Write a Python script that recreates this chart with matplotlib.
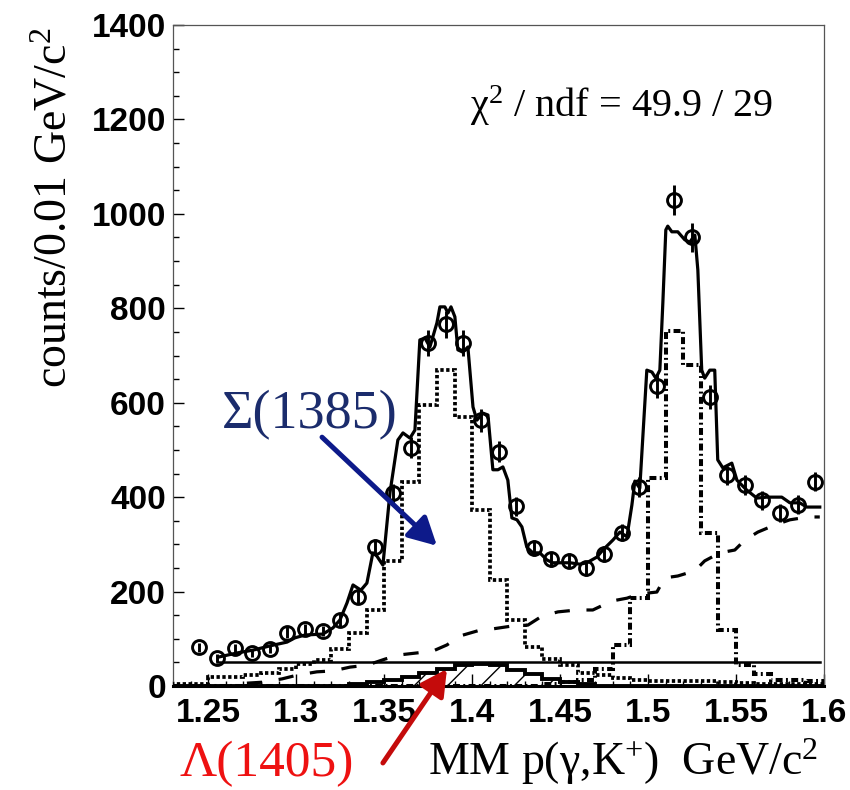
import numpy as np
import matplotlib
matplotlib.use("Agg")
import matplotlib.pyplot as plt
from matplotlib.ticker import MultipleLocator, FormatStrFormatter

plt.rcParams["lines.scale_dashes"] = False
plt.rcParams["mathtext.fontset"] = "custom"
plt.rcParams["mathtext.rm"] = "Liberation Serif"
plt.rcParams["mathtext.it"] = "Liberation Serif:italic"
plt.rcParams["hatch.linewidth"] = 1.0

# measured spectrum, 0.01 GeV bins
mm_centers = [1.245, 1.255, 1.265, 1.275, 1.285, 1.295, 1.305, 1.315, 1.325, 1.335,
              1.345, 1.355, 1.365, 1.375, 1.385, 1.395, 1.405, 1.415, 1.425, 1.435,
              1.445, 1.455, 1.465, 1.475, 1.485, 1.495, 1.505, 1.515, 1.525, 1.535,
              1.545, 1.555, 1.565, 1.575, 1.585, 1.595]
counts = [82, 59, 80, 69, 78, 113, 120, 116, 140, 189,
          294, 408, 505, 727, 766, 726, 563, 496, 381, 292,
          268, 265, 249, 280, 325, 422, 635, 1029, 950, 612,
          446, 426, 393, 366, 384, 433]
count_err = [9, 8, 9, 8, 9, 11, 11, 11, 12, 14,
             17, 20, 22, 27, 28, 27, 24, 22, 20, 17,
             16, 16, 16, 17, 18, 21, 25, 32, 31, 25,
             21, 21, 20, 19, 20, 21]

# total fit
fit_x = [1.2556, 1.2664, 1.2755, 1.2851, 1.2948, 1.2993, 1.3050, 1.3152, 1.3209, 1.3249,
         1.3289, 1.3323, 1.3368, 1.3402, 1.3436, 1.3459, 1.3493, 1.3533, 1.3578, 1.3607,
         1.3647, 1.3675, 1.3703, 1.3732, 1.3760, 1.3800, 1.3817, 1.3845, 1.3863, 1.3880,
         1.3902, 1.3919, 1.3948, 1.3976, 1.4005, 1.4027, 1.4061, 1.4090, 1.4118, 1.4147,
         1.4175, 1.4203, 1.4226, 1.4255, 1.4283, 1.4311, 1.4345, 1.4385, 1.4425, 1.4459,
         1.4499, 1.4556, 1.4613, 1.4652, 1.4709, 1.4743, 1.4800, 1.4840, 1.4880, 1.4908,
         1.4925, 1.4953, 1.4976, 1.4993, 1.5022, 1.5044, 1.5067, 1.5084, 1.5101, 1.5112,
         1.5135, 1.5169, 1.5209, 1.5237, 1.5266, 1.5283, 1.5305, 1.5322, 1.5351, 1.5379,
         1.5396, 1.5425, 1.5476, 1.5505, 1.5561, 1.5618, 1.5675, 1.5760, 1.5806, 1.5862,
         1.5902, 1.5976]
fit_y = [61, 70, 76, 85, 93, 102, 108, 110, 123, 140,
         176, 214, 203, 218, 282, 275, 256, 409, 521, 536,
         525, 542, 733, 737, 718, 769, 803, 803, 790, 803,
         782, 712, 707, 718, 591, 563, 578, 574, 458, 458,
         464, 436, 356, 352, 337, 294, 282, 282, 267, 261,
         261, 261, 258, 261, 273, 288, 309, 326, 316, 383,
         434, 419, 563, 669, 665, 652, 669, 811, 966, 974,
         962, 962, 945, 940, 955, 881, 669, 652, 669, 669,
         479, 462, 472, 436, 415, 398, 400, 400, 388, 388,
         379, 379]

# smooth background
bg_x = [1.2720, 1.2806, 1.2919, 1.3005, 1.3118, 1.3209, 1.3306, 1.3402, 1.3505, 1.3590,
        1.3686, 1.3777, 1.3857, 1.3931, 1.4033, 1.4118, 1.4226, 1.4317, 1.4397, 1.4488,
        1.4595, 1.4686, 1.4794, 1.4880, 1.4953, 1.5050, 1.5095, 1.5169, 1.5266, 1.5322,
        1.5408, 1.5493, 1.5550, 1.5624, 1.5720, 1.5806, 1.5908, 1.5976]
bg_y = [6, 8, 15, 23, 30, 32, 40, 44, 57, 66,
        70, 74, 87, 106, 117, 121, 127, 129, 148, 157,
        161, 161, 180, 186, 195, 199, 229, 233, 244, 265,
        282, 288, 309, 326, 341, 352, 358, 358]

# template histograms, bins of 0.01 from 1.23 to 1.60
bin_edges = np.round(np.arange(1.23, 1.6001, 0.01), 2)
sigma1385 = [4, 5, 20, 20, 23, 28, 37, 47, 55, 78,
             112, 161, 265, 433, 595, 669, 570, 373, 225, 140,
             83, 57, 44, 28, 23, 17, 13, 10, 10, 10,
             10, 8, 6, 5, 5, 4, 4]
lambda1520 = [0, 0, 0, 0, 0, 0, 0, 0, 0, 0,
              0, 0, 0, 0, 0, 0, 0, 0, 0, 0,
              0, 5, 8, 12, 35, 87, 186, 441, 752, 680,
              323, 119, 44, 25, 13, 13, 10]
lambda1405 = [0, 0, 0, 0, 0, 0, 0, 0, 0, 0,
              4, 8, 13, 19, 27, 37, 45, 47, 45, 34,
              25, 15, 8, 4, 0, 0, 0, 0, 0, 0,
              0, 0, 0, 0, 0, 0, 0]
flat_level = 50
flat_range = [1.255, 1.598]

chi2_text = r"χ$^{2}$ / ndf = 49.9 / 29"

fig = plt.figure(figsize=(8.5, 7.9), dpi=100)
ax = fig.add_axes([173 / 850, 104 / 790, 651 / 850, 661 / 790])

# Lambda(1405): hatched area with bold outline
l1405 = np.array(lambda1405, dtype=float)
ax.fill_between(bin_edges, np.append(l1405, l1405[-1]), step="post",
                facecolor="none", edgecolor="black", hatch="/", lw=0, zorder=2)
ax.stairs(l1405, bin_edges, color="black", lw=2.8, zorder=3)

ax.stairs(sigma1385, bin_edges, color="black", lw=2.7,
          linestyle=(0, (2.4, 1.8)), zorder=3)
ax.stairs(lambda1520, bin_edges, color="black", lw=2.9,
          linestyle=(0, (5, 2.4, 1.4, 2.4)), zorder=3)
ax.plot(bg_x, bg_y, color="black", lw=2.3, linestyle=(0, (11, 12)), zorder=3)
ax.plot(flat_range, [flat_level, flat_level], color="black", lw=1.8, zorder=3)
ax.plot(fit_x, fit_y, color="black", lw=2.3, zorder=4)

ax.errorbar(mm_centers, counts, yerr=count_err, fmt="o", ms=10, mfc="none",
            mec="black", mew=2.1, ecolor="black", elinewidth=2.1, capsize=0,
            zorder=5)

ax.set_xlim(1.23, 1.6)
ax.set_ylim(0, 1400)
ax.xaxis.set_major_locator(MultipleLocator(0.05))
ax.xaxis.set_minor_locator(MultipleLocator(0.01))
ax.xaxis.set_major_formatter(FormatStrFormatter("%g"))
ax.yaxis.set_major_locator(MultipleLocator(200))
ax.yaxis.set_minor_locator(MultipleLocator(50))
ax.tick_params(which="both", direction="in", width=1.0, colors="black")
ax.tick_params(axis="x", which="major", length=8.5, pad=9)
ax.tick_params(axis="x", which="minor", length=3.5)
ax.tick_params(axis="y", which="major", length=8, pad=5)
ax.tick_params(axis="y", which="minor", length=4.5)
for lab in ax.get_xticklabels() + ax.get_yticklabels():
    lab.set_family("Liberation Sans")
    lab.set_weight("bold")
    lab.set_size(24)

for side in ["top", "right", "left"]:
    ax.spines[side].set_color("#555555")
    ax.spines[side].set_linewidth(0.9)
ax.spines["bottom"].set_color("black")
ax.spines["bottom"].set_linewidth(2.2)

serif = "Liberation Serif"
fig.text(55 / 850, 1 - 208 / 790, r"counts/0.01 GeV/c$^{2}$", rotation=90,
         family=serif, size=33, ha="center", va="center")
fig.text(428 / 850, 1 - 775 / 790, r"MM p(γ,K$^{+}$)  GeV/c$^{2}$",
         family=serif, size=33, ha="left", va="baseline")
fig.text(470 / 850, 1 - 117 / 790, chi2_text, family=serif, size=29,
         ha="left", va="baseline")

# component labels with arrows
fig.text(222 / 850, 1 - 428 / 790, "Σ(1385)", family=serif, size=39,
         color="#1b2c6c", ha="left", va="baseline")
ax.annotate("", xy=(1.380, 297), xytext=(1.3147, 527),
            arrowprops=dict(arrowstyle="-|>,head_length=0.6,head_width=0.32",
                            color="#0d1a8a", lw=3.6, mutation_scale=28,
                            shrinkA=0, shrinkB=0),
            annotation_clip=False, zorder=6)
fig.text(180 / 850, 1 - 776 / 790, "Λ(1405)", family=serif, size=37,
         color="#ee1111", ha="left", va="baseline")
ax.annotate("", xy=(1.3857, 36), xytext=(1.3493, -163),
            arrowprops=dict(arrowstyle="-|>,head_length=0.6,head_width=0.32",
                            color="#c40b0b", lw=3.6, mutation_scale=26,
                            shrinkA=0, shrinkB=0),
            annotation_clip=False, zorder=6)

fig.savefig("out.png", dpi=100)
